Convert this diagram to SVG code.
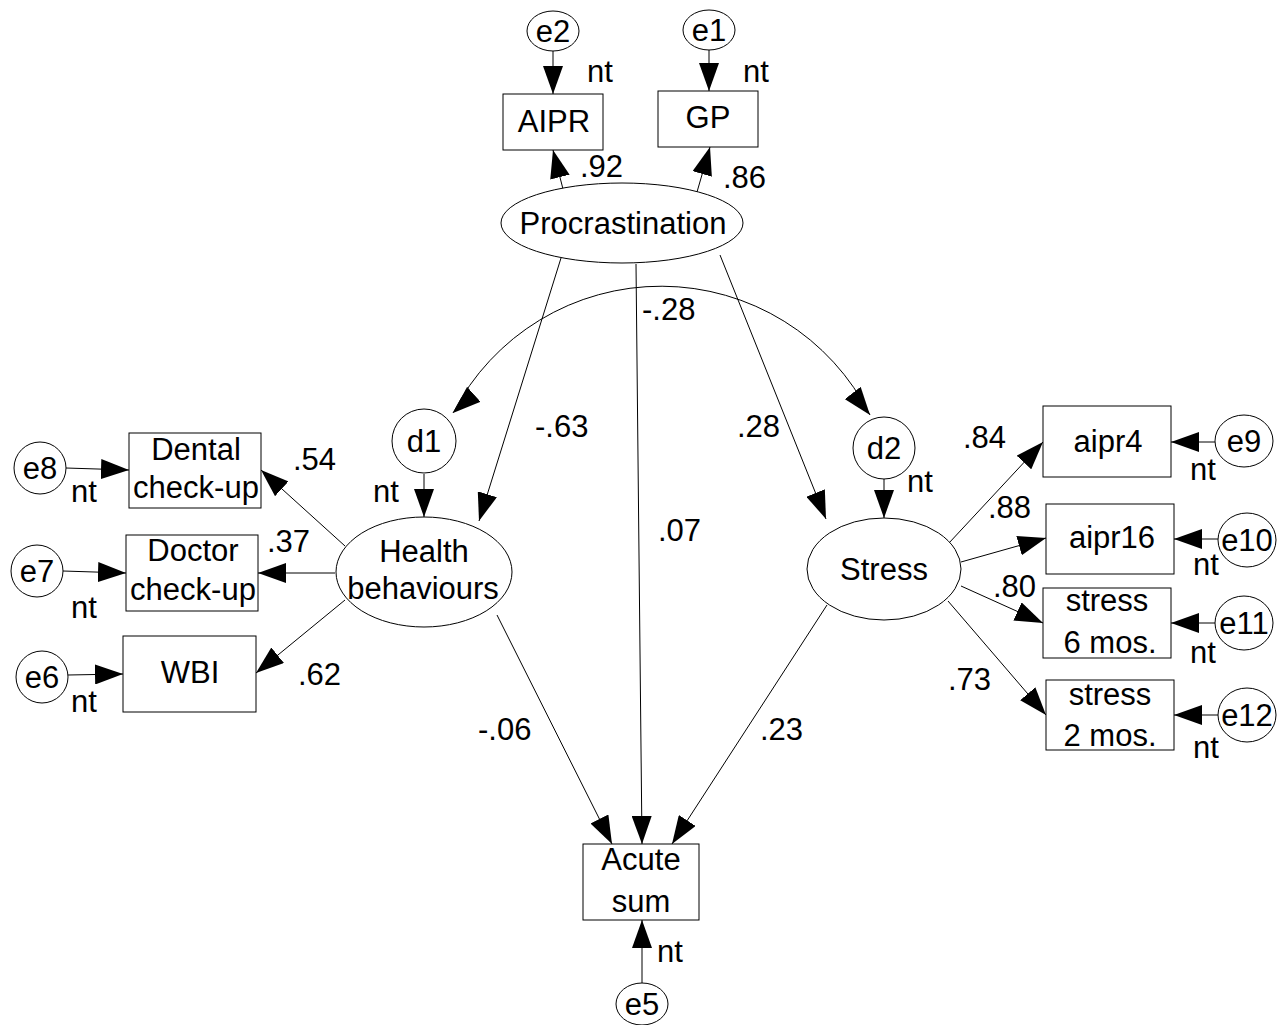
<svg xmlns="http://www.w3.org/2000/svg" width="1279" height="1025" viewBox="0 0 1279 1025">
<defs>
<marker id="ah" markerUnits="userSpaceOnUse" markerWidth="28" markerHeight="20" refX="28" refY="10" orient="auto" viewBox="0 0 28 20">
<path d="M0,0 L28,10 L0,20 z" fill="#000"/>
</marker>
<marker id="ahL" markerUnits="userSpaceOnUse" markerWidth="28" markerHeight="20" refX="28" refY="10" orient="138" viewBox="0 0 28 20">
<path d="M0,0 L28,10 L0,20 z" fill="#000"/>
</marker>
<marker id="ahR" markerUnits="userSpaceOnUse" markerWidth="28" markerHeight="20" refX="28" refY="10" orient="52" viewBox="0 0 28 20">
<path d="M0,0 L28,10 L0,20 z" fill="#000"/>
</marker>
</defs>
<style>
text{font-family:"Liberation Sans",Arial,sans-serif;font-size:31px;fill:#000}
.c{text-anchor:middle}
.n{fill:#fff;stroke:#000;stroke-width:1}
.e{stroke:#000;stroke-width:1;fill:none;marker-end:url(#ah)}
</style>
<rect width="1279" height="1025" fill="#fff"/>
<g id="connectors">
<line class="e" x1="553" y1="51" x2="553" y2="94"/>
<line class="e" x1="709" y1="50" x2="709" y2="91"/>
<line class="e" x1="564" y1="193" x2="553" y2="150"/>
<line class="e" x1="697" y1="192" x2="710" y2="147"/>
<line class="e" x1="66" y1="468" x2="129" y2="470"/>
<line class="e" x1="63" y1="571" x2="126" y2="573"/>
<line class="e" x1="68" y1="675" x2="123" y2="674"/>
<line class="e" x1="345" y1="546" x2="261" y2="470"/>
<line class="e" x1="335" y1="573" x2="258" y2="573"/>
<line class="e" x1="345" y1="600" x2="256" y2="673"/>
<line class="e" x1="424" y1="474" x2="424" y2="517"/>
<line class="e" x1="884" y1="479" x2="884" y2="518"/>
<line class="e" x1="1215" y1="442" x2="1171" y2="442"/>
<line class="e" x1="1218" y1="539" x2="1174" y2="539"/>
<line class="e" x1="1215" y1="623" x2="1171" y2="623"/>
<line class="e" x1="1218" y1="715" x2="1174" y2="715"/>
<line class="e" x1="949" y1="543" x2="1043" y2="442"/>
<line class="e" x1="961" y1="562" x2="1046" y2="538"/>
<line class="e" x1="961" y1="586" x2="1043" y2="623"/>
<line class="e" x1="948" y1="601" x2="1046" y2="715"/>
<line class="e" x1="642" y1="983" x2="642" y2="920"/>
<line class="e" x1="497" y1="615" x2="612" y2="844"/>
<line class="e" x1="636" y1="264" x2="642" y2="844"/>
<line class="e" x1="827" y1="605" x2="672" y2="844"/>
<line class="e" x1="561" y1="258" x2="479" y2="521"/>
<line class="e" x1="720" y1="255" x2="826" y2="519"/>
<path d="M453,413 A234,234 0 0 1 870,415" stroke="#000" stroke-width="1" fill="none" marker-start="url(#ahL)" marker-end="url(#ahR)"/>
</g>
<g id="procrastination"><ellipse class="n" cx="622" cy="223" rx="121" ry="40"/><text class="c" x="623" y="234">Procrastination</text></g>
<g id="aipr"><rect class="n" x="503" y="94" width="100" height="56"/><text class="c" x="554" y="132">AIPR</text></g>
<g id="gp"><rect class="n" x="658" y="91" width="100" height="56"/><text class="c" x="708" y="128">GP</text></g>
<g id="e2"><ellipse class="n" cx="553" cy="31" rx="26" ry="20"/><text class="c" x="553" y="42">e2</text></g>
<g id="e1"><ellipse class="n" cx="709" cy="30" rx="26" ry="20"/><text class="c" x="709" y="41">e1</text></g>
<g id="health"><ellipse class="n" cx="424" cy="572" rx="88" ry="55"/><text class="c" x="424" y="562">Health</text><text class="c" x="423" y="599">behaviours</text></g>
<g id="dental"><rect class="n" x="129" y="433" width="132" height="75"/><text class="c" x="196" y="460">Dental</text><text class="c" x="196" y="498">check-up</text></g>
<g id="doctor"><rect class="n" x="126" y="535" width="132" height="76"/><text class="c" x="193" y="561">Doctor</text><text class="c" x="193" y="600">check-up</text></g>
<g id="wbi"><rect class="n" x="123" y="636" width="133" height="76"/><text class="c" x="190" y="683">WBI</text></g>
<g id="e8"><circle class="n" cx="40" cy="468" r="26"/><text class="c" x="40" y="479">e8</text></g>
<g id="e7"><circle class="n" cx="37" cy="571" r="26"/><text class="c" x="37" y="582">e7</text></g>
<g id="e6"><circle class="n" cx="42" cy="677" r="26"/><text class="c" x="42" y="688">e6</text></g>
<g id="d1"><circle class="n" cx="424" cy="441" r="32"/><text class="c" x="424" y="452">d1</text></g>
<g id="stress"><ellipse class="n" cx="884" cy="569" rx="77" ry="51"/><text class="c" x="884" y="580">Stress</text></g>
<g id="d2"><circle class="n" cx="884" cy="448" r="31"/><text class="c" x="884" y="459">d2</text></g>
<g id="aipr4"><rect class="n" x="1043" y="406" width="128" height="71"/><text class="c" x="1108" y="452">aipr4</text></g>
<g id="aipr16"><rect class="n" x="1046" y="504" width="128" height="70"/><text class="c" x="1112" y="548">aipr16</text></g>
<g id="stress6"><rect class="n" x="1043" y="588" width="128" height="70"/><text class="c" x="1107" y="611">stress</text><text class="c" x="1110" y="653">6 mos.</text></g>
<g id="stress2"><rect class="n" x="1046" y="680" width="128" height="70"/><text class="c" x="1110" y="705">stress</text><text class="c" x="1110" y="746">2 mos.</text></g>
<g id="e9"><ellipse class="n" cx="1244" cy="441" rx="29" ry="26"/><text class="c" x="1244" y="452">e9</text></g>
<g id="e10"><ellipse class="n" cx="1247" cy="540" rx="29" ry="27"/><text class="c" x="1247" y="551">e10</text></g>
<g id="e11"><ellipse class="n" cx="1244" cy="623" rx="29" ry="27"/><text class="c" x="1244" y="634">e11</text></g>
<g id="e12"><ellipse class="n" cx="1247" cy="715" rx="29" ry="27"/><text class="c" x="1247" y="726">e12</text></g>
<g id="acute"><rect class="n" x="583" y="844" width="116" height="76"/><text class="c" x="641" y="870">Acute</text><text class="c" x="641" y="912">sum</text></g>
<g id="e5"><ellipse class="n" cx="642" cy="1004" rx="26" ry="21"/><text class="c" x="642" y="1015">e5</text></g>
<g id="labels">
<text x="587" y="82">nt</text>
<text x="743" y="82">nt</text>
<text x="580" y="177">.92</text>
<text x="723" y="188">.86</text>
<text x="71" y="502">nt</text>
<text x="71" y="618">nt</text>
<text x="71" y="712">nt</text>
<text x="373" y="502">nt</text>
<text x="293" y="470">.54</text>
<text x="267" y="552">.37</text>
<text x="298" y="685">.62</text>
<text x="907" y="492">nt</text>
<text x="1190" y="480">nt</text>
<text x="1193" y="575">nt</text>
<text x="1190" y="663">nt</text>
<text x="1193" y="758">nt</text>
<text x="963" y="448">.84</text>
<text x="988" y="518">.88</text>
<text x="993" y="597">.80</text>
<text x="948" y="690">.73</text>
<text x="657" y="962">nt</text>
<text x="642" y="320">-.28</text>
<text x="535" y="437">-.63</text>
<text x="737" y="437">.28</text>
<text x="658" y="541">.07</text>
<text x="478" y="740">-.06</text>
<text x="760" y="740">.23</text>
</g>
</svg>
